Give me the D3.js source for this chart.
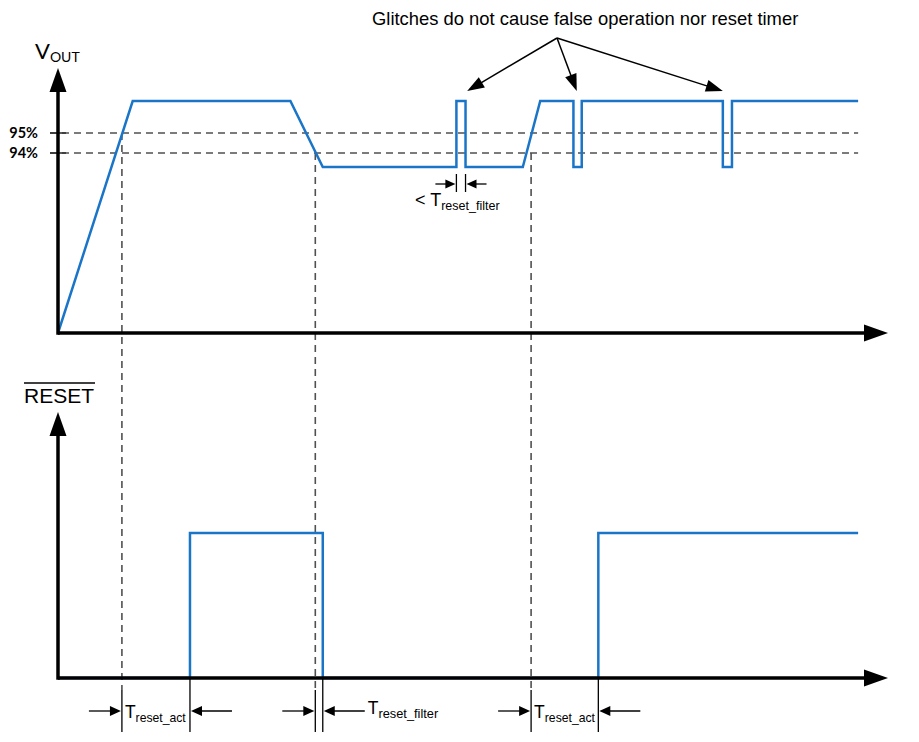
<!DOCTYPE html>
<html>
<head>
<meta charset="utf-8">
<script src="https://cdn.jsdelivr.net/npm/d3@7"></script>
<style>
  body { margin: 0; background: #fff; }
  svg { display: block; }
</style>
</head>
<body>
<div id="chart-container"></div>
<script>
// V_OUT waveform (time in arbitrary units, level in % of nominal)
const voutTime  = [0, 9.0, 28.0, 31.9, 48.0, 48.0, 49.1, 49.1, 56.0, 58.1, 62.1, 62.1, 63.1, 63.1, 80.1, 80.1, 81.2, 81.2, 96.4];
const voutLevel = [0, 96.6, 96.6, 93.3, 93.3, 96.6, 96.6, 93.3, 93.3, 96.6, 96.6, 93.3, 93.3, 96.6, 96.6, 93.3, 93.3, 96.6, 96.6];

// RESET output (0 = low, 1 = high)
const resetTime  = [0, 15.9, 15.9, 31.9, 31.9, 65.1, 65.1, 96.4];
const resetLevel = [0, 0, 1, 1, 0, 0, 1, 1];

// threshold lines
const thresholdValues = [95, 94];
const thresholdLabels = ["95%", "94%"];

// vertical dashed markers: time and threshold they start from
const markerTimes = [7.7, 31.0, 57.0];
const markerFrom  = [95, 94, 94];

// timing annotations under the RESET axis
const intervalStart = [7.7, 31.0, 57.0];
const intervalEnd   = [15.9, 31.9, 65.1];
const intervalLabel = ["reset_act", "reset_filter", "reset_act"];

// glitches pointed at by the note
const glitchTimes = [49.3, 62.5, 80.1];
const noteText = "Glitches do not cause false operation nor reset timer";

const W = 919, H = 742;
const blue = "#1a75c8", dash = "#505050";

const svg = d3.select("#chart-container").append("svg")
  .attr("width", W).attr("height", H);

const x = d3.scaleLinear().domain([0, 100]).range([58, 888]);
const yV = d3.scaleLinear().domain([0, 93.3, 94, 95, 96.6]).range([333, 167, 153, 133, 101]);
const yR = d3.scaleLinear().domain([0, 1]).range([678, 533]);

// helper: filled arrow head with tip at (tx,ty) pointing along angle a
function head(g, tx, ty, a, len, wid) {
  const c = Math.cos(a), s = Math.sin(a);
  const bx = tx - c * len, by = ty - s * len;
  const px = -s * wid / 2, py = c * wid / 2;
  g.append("path")
    .attr("d", `M${tx},${ty}L${bx + px},${by + py}L${bx - px},${by - py}Z`)
    .attr("fill", "#000");
}
function arrow(g, x1, y1, x2, y2, w, len, wid) {
  const a = Math.atan2(y2 - y1, x2 - x1);
  g.append("line")
    .attr("x1", x1).attr("y1", y1)
    .attr("x2", x2 - Math.cos(a) * len * 0.8).attr("y2", y2 - Math.sin(a) * len * 0.8)
    .attr("stroke", "#000").attr("stroke-width", w);
  head(g, x2, y2, a, len, wid);
}

// ---- dashed threshold lines
const gDash = svg.append("g");
thresholdValues.forEach((v, i) => {
  gDash.append("line")
    .attr("x1", 50).attr("x2", x(96.4))
    .attr("y1", yV(v)).attr("y2", yV(v))
    .attr("stroke", dash).attr("stroke-width", 1.6)
    .attr("stroke-dasharray", "7,5");
  gDash.append("line")
    .attr("x1", 50).attr("x2", 66)
    .attr("y1", yV(v)).attr("y2", yV(v))
    .attr("stroke", "#333").attr("stroke-width", 1.6);
  svg.append("text")
    .attr("x", 38).attr("y", yV(v) + 5)
    .attr("text-anchor", "end")
    .attr("font-family", "Lato, 'Open Sans', sans-serif")
    .attr("font-weight", "bold").attr("font-size", 14.5)
    .text(thresholdLabels[i]);
});

markerTimes.forEach((t, i) => {
  gDash.append("line")
    .attr("x1", x(t)).attr("x2", x(t))
    .attr("y1", yV(markerFrom[i])).attr("y2", 690)
    .attr("stroke", dash).attr("stroke-width", 1.6)
    .attr("stroke-dasharray", "7,5");
});

// ---- waveforms
const vData = voutTime.map((t, i) => [t, voutLevel[i]]);
svg.append("path")
  .datum(vData)
  .attr("d", d3.line().x(d => x(d[0])).y(d => yV(d[1])))
  .attr("fill", "none").attr("stroke", blue).attr("stroke-width", 2.5);

const rData = resetTime.map((t, i) => [t, resetLevel[i]]);
svg.append("path")
  .datum(rData)
  .attr("d", d3.line().x(d => x(d[0])).y(d => yR(d[1])))
  .attr("fill", "none").attr("stroke", blue).attr("stroke-width", 2.5);

// ---- axes
const gAxis = svg.append("g");
function axes(y0, yTop) {
  gAxis.append("line")
    .attr("x1", x(0)).attr("x2", x(100) - 20)
    .attr("y1", y0).attr("y2", y0)
    .attr("stroke", "#000").attr("stroke-width", 3.5);
  head(gAxis, x(100), y0, 0, 24, 17);
  gAxis.append("line")
    .attr("x1", x(0)).attr("x2", x(0))
    .attr("y1", y0 + 1.75).attr("y2", yTop + 20)
    .attr("stroke", "#000").attr("stroke-width", 3.5);
  head(gAxis, x(0), yTop, -Math.PI / 2, 24, 17);
}
axes(yV(0), 68);
axes(yR(0), 412);

// ---- axis titles
const vt = svg.append("text")
  .attr("x", 35).attr("y", 59)
  .attr("font-family", "Lato, 'Open Sans', sans-serif")
  .attr("font-size", 22);
vt.append("tspan").text("V");
vt.append("tspan").attr("font-size", 14).attr("dy", 3).text("OUT");

svg.append("text")
  .attr("x", 24).attr("y", 403)
  .attr("font-family", "'Liberation Sans', Arial, sans-serif")
  .attr("font-size", 21)
  .text("RESET");
svg.append("line")
  .attr("x1", 24).attr("x2", 95)
  .attr("y1", 383).attr("y2", 383)
  .attr("stroke", "#000").attr("stroke-width", 1.5);

// ---- glitch note
const gNote = svg.append("g");
gNote.append("text")
  .attr("x", 372).attr("y", 25)
  .attr("font-family", "'Liberation Sans', Arial, sans-serif")
  .attr("font-size", 18.4)
  .text(noteText);
glitchTimes.forEach(t => {
  arrow(gNote, 557, 38, x(t), yV(96.6) - 10, 1.5, 17, 12);
});

// glitch width "< T reset_filter"
const gw = svg.append("g");
const ga = x(48.0), gb = x(49.1), gy = 184;
[ga, gb].forEach(px => {
  gw.append("line").attr("x1", px).attr("x2", px).attr("y1", 174).attr("y2", 192)
    .attr("stroke", "#000").attr("stroke-width", 1.3);
});
arrow(gw, ga - 21, gy, ga - 1, gy, 1.3, 10, 9);
arrow(gw, gb + 21, gy, gb + 1, gy, 1.3, 10, 9);
const gt = gw.append("text")
  .attr("x", 415).attr("y", 206)
  .attr("font-family", "'Liberation Sans', Arial, sans-serif")
  .attr("font-size", 18);
gt.append("tspan").text("< T");
gt.append("tspan").attr("font-size", 12.5).attr("dy", 4).text("reset_filter");

// ---- timing intervals under RESET
const gInt = svg.append("g");
intervalStart.forEach((s, i) => {
  const xa = x(s), xb = x(intervalEnd[i]), ay = 711;
  gInt.append("line").attr("x1", xa).attr("x2", xa).attr("y1", 690).attr("y2", 732)
    .attr("stroke", "#000").attr("stroke-width", 1.3);
  gInt.append("line").attr("x1", xb).attr("x2", xb).attr("y1", 679).attr("y2", 732)
    .attr("stroke", "#000").attr("stroke-width", 1.3);
  arrow(gInt, xa - 33, ay, xa - 1, ay, 1.3, 11, 10);
  arrow(gInt, xb + 42, ay, xb + 1, ay, 1.3, 11, 10);
  const wide = xb - xa > 30;
  const tx = wide ? xa + 3 : xb + 45;
  const t = gInt.append("text")
    .attr("x", tx).attr("y", wide ? 718 : 714)
    .attr("font-family", "'Liberation Sans', Arial, sans-serif")
    .attr("font-size", 17.5);
  t.append("tspan").text("T");
  t.append("tspan").attr("font-size", wide ? 12.2 : 12.8).attr("dy", 4).text(intervalLabel[i]);
});
</script>
</body>
</html>
